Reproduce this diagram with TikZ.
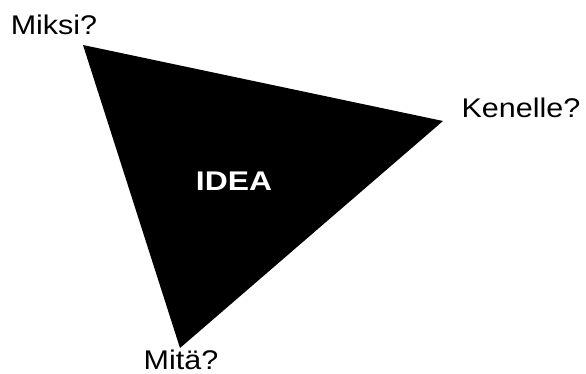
\documentclass[tikz,border=0pt]{standalone}
\usepackage{fontspec}
\setmainfont{Liberation Sans}
\usepackage{tikz}
\usetikzlibrary{positioning, calc}

\begin{document}
\begin{tikzpicture}[x=1pt, y=-1pt]
    \useasboundingbox (0,0) rectangle (586,374);
    \coordinate (miksipt) at (83,45);
    \coordinate (kenellept) at (443,121);
    \coordinate (mitapt) at (180,348);

    \fill[black] (miksipt) -- (kenellept) -- (mitapt) -- cycle;

    \node[anchor=base, xscale=1.13, font=\fontsize{27}{31}\selectfont] (miksi) at (54,35) {Miksi?};
    \node[anchor=base, xscale=1.13, font=\fontsize{27}{31}\selectfont] (kenelle) at (521,118) {Kenelle?};
    \node[anchor=base, xscale=1.13, font=\fontsize{27}{31}\selectfont] (mita) at (181,369) {Mitä?};
    \node[anchor=base, xscale=1.18, text=white, font=\fontsize{27}{31}\selectfont\bfseries] (idea) at (234,191) {IDEA};
\end{tikzpicture}
\end{document}
